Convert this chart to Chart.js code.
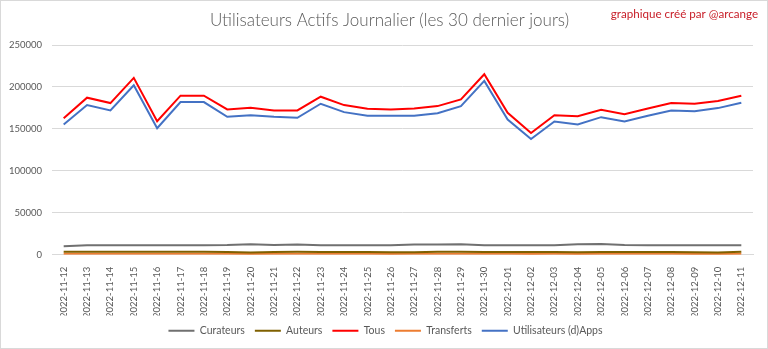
<!DOCTYPE html>
<html>
<head>
<meta charset="utf-8">
<script src="https://cdn.jsdelivr.net/npm/chart.js@4/dist/chart.umd.min.js"></script>
<style>
  html, body { margin: 0; padding: 0; background: #ffffff; }
  #wrap { width: 768px; height: 349px; position: relative; }
</style>
</head>
<body>
<div id="wrap"><canvas id="chart" width="768" height="349"></canvas></div>
<script>
// Daily active users, last 30 days
const dates = [
  '2022-11-12','2022-11-13','2022-11-14','2022-11-15','2022-11-16','2022-11-17',
  '2022-11-18','2022-11-19','2022-11-20','2022-11-21','2022-11-22','2022-11-23',
  '2022-11-24','2022-11-25','2022-11-26','2022-11-27','2022-11-28','2022-11-29',
  '2022-11-30','2022-12-01','2022-12-02','2022-12-03','2022-12-04','2022-12-05',
  '2022-12-06','2022-12-07','2022-12-08','2022-12-09','2022-12-10','2022-12-11'
];

const curateurs = [
  10200, 11300, 11400, 11400, 11300, 11300, 11300, 11600, 12600, 11700,
  12400, 11400, 11400, 11500, 11300, 12200, 12400, 12500, 11500, 11300,
  11300, 11500, 12600, 12800, 11600, 11400, 11400, 11400, 11300, 11300
];

const auteurs = [
  3600, 3700, 3600, 3700, 3500, 3600, 3600, 3400, 2600, 3200,
  3500, 3400, 3300, 3200, 2900, 3100, 3600, 3700, 3300, 3300,
  3200, 3300, 2900, 3400, 3300, 3200, 3300, 3100, 2800, 3500
];

const tous = [
  162700, 187200, 180800, 210800, 159200, 189600, 189600, 173200, 175200, 172000,
  172000, 188400, 178400, 174000, 173200, 174400, 177200, 185200, 215200, 169200,
  145200, 166400, 165200, 172800, 167600, 174400, 180800, 180000, 183200, 189600
];

const transferts = [
  1300, 1300, 1200, 1300, 1200, 1300, 1300, 1200, 1100, 1200,
  1200, 1300, 1200, 1200, 1100, 1200, 1300, 1300, 1200, 1200,
  1100, 1200, 1100, 1200, 1200, 1200, 1200, 1100, 1000, 1200
];

const dappsUsers = [
  155200, 178400, 172000, 202000, 150800, 182000, 182000, 164400, 166400, 164400,
  163200, 180000, 170000, 165600, 165600, 165600, 168800, 177200, 207200, 161200,
  138000, 158800, 155200, 164000, 158800, 165600, 172000, 171200, 174800, 181200
];

const yMax = 250000;
const yStep = 50000;

const textGray = '#595959';
const uiFont = 'Lato, "Liberation Sans", sans-serif';

// White background, thin frame, credit line, and re-centring of title/legend
const frame = {
  id: 'frame',
  afterLayout(chart) {
    const shift = (box, dx) => { if (box) { box.left += dx; box.right += dx; } };
    shift(chart.titleBlock, 13);
    shift(chart.legend, 9);
  },
  beforeDraw(chart) {
    const c = chart.ctx;
    c.save();
    c.fillStyle = '#ffffff';
    c.fillRect(0, 0, chart.width, chart.height);
    c.restore();
  },
  afterDraw(chart) {
    const c = chart.ctx;
    c.save();
    c.strokeStyle = '#d9d9d9';
    c.lineWidth = 1;
    c.strokeRect(0.5, 0.5, chart.width - 1, chart.height - 1);
    c.fillStyle = '#c8202a';
    c.font = '11.6px ' + uiFont;
    c.textAlign = 'right';
    c.textBaseline = 'middle';
    c.fillText('graphique créé par @arcange', chart.width - 10, 14);
    c.restore();
  }
};

function series(label, data, color) {
  return {
    label,
    data,
    borderColor: color,
    backgroundColor: color,
    borderWidth: 2,
    pointRadius: 0,
    pointHoverRadius: 0,
    tension: 0,
    fill: false
  };
}

new Chart(document.getElementById('chart'), {
  type: 'line',
  data: {
    labels: dates,
    datasets: [
      series('Curateurs', curateurs, '#707070'),
      series('Auteurs', auteurs, '#7f6000'),
      series('Tous', tous, '#ff0000'),
      series('Transferts', transferts, '#ed7d31'),
      series('Utilisateurs (d)Apps', dappsUsers, '#4472c4')
    ]
  },
  plugins: [frame],
  options: {
    responsive: false,
    animation: false,
    events: [],
    layout: { padding: { left: 0, right: 15, top: 0, bottom: 3 } },
    plugins: {
      title: {
        display: true,
        text: 'Utilisateurs Actifs Journalier (les 30 dernier jours)',
        color: textGray,
        font: { family: uiFont, size: 17, weight: '300', lineHeight: '21px' },
        padding: { top: 10, bottom: 14 }
      },
      legend: {
        position: 'bottom',
        labels: {
          color: textGray,
          font: { family: uiFont, size: 10.5 },
          usePointStyle: true,
          pointStyle: 'line',
          pointStyleWidth: 26,
          padding: 10
        }
      },
      tooltip: { enabled: false }
    },
    scales: {
      x: {
        offset: true,
        grid: { display: false },
        border: { display: true, color: '#d9d9d9' },
        ticks: {
          color: textGray,
          font: { family: uiFont, size: 9.5 },
          autoSkip: false,
          minRotation: 90,
          maxRotation: 90,
          padding: 4
        },
        afterFit(scale) { scale.height = 60.7; }
      },
      y: {
        min: 0,
        max: yMax,
        grid: { color: '#d9d9d9', drawTicks: false },
        border: { display: false },
        ticks: {
          stepSize: yStep,
          color: textGray,
          font: { family: uiFont, size: 9.5 },
          padding: 10,
          callback: v => String(v)
        },
        afterFit(scale) { scale.width = 52; }
      }
    }
  }
});
</script>
</body>
</html>
